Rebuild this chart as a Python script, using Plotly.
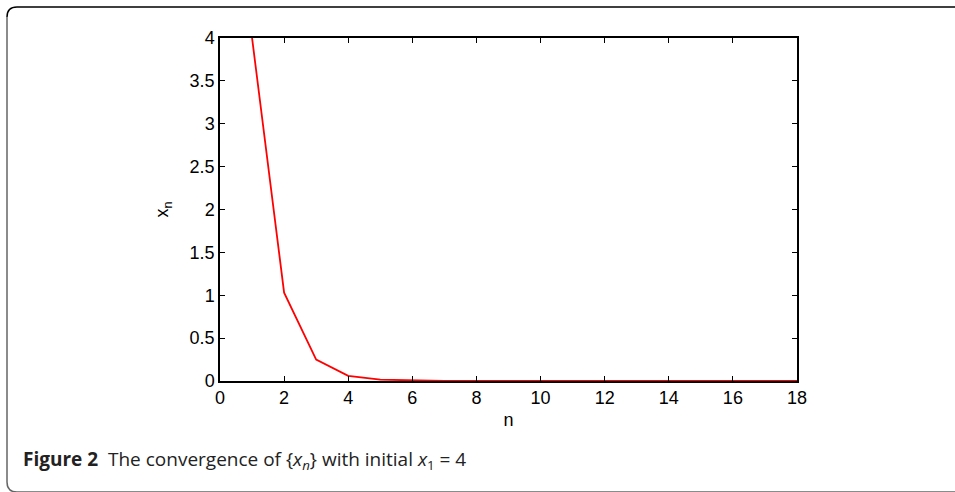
import plotly.graph_objects as go

n_values = list(range(1, 19))
x_values = [4.0, 1.03, 0.25, 0.06, 0.015, 0.004, 0.001, 0.0003, 0.0001, 0.00002,
            0.000006, 0.0000015, 0.0000004, 0.0000001, 0.00000002, 0.000000006,
            0.0000000015, 0.0000000004]
x_ticks = [0, 2, 4, 6, 8, 10, 12, 14, 16, 18]
y_ticks = [0, 0.5, 1, 1.5, 2, 2.5, 3, 3.5, 4]

W, H = 955, 492
L, R, T, B = 220, 797, 38, 381

def px(x):
    return (x - L) / (R - L)

def py(y):
    return (B - y) / (B - T)

fig = go.Figure()
fig.add_trace(go.Scatter(x=n_values, y=x_values, mode="lines",
                         line=dict(color="#ff0000", width=1.8), showlegend=False))

font = dict(family="Liberation Sans, Arial, sans-serif", size=18, color="#000")
axis_common = dict(showgrid=False, zeroline=False, showline=True, linecolor="#000",
                   linewidth=1.5, mirror="ticks", ticks="inside", ticklen=5,
                   tickcolor="#000", tickwidth=1, tickfont=font)

fig.update_layout(
    width=W, height=H,
    margin=dict(l=L, r=W - R, t=T, b=H - B),
    plot_bgcolor="white", paper_bgcolor="white",
    xaxis=dict(range=[0, 18], tickvals=x_ticks, ticktext=[str(t) for t in x_ticks],
               title=dict(text="n", font=font, standoff=6), **axis_common),
    yaxis=dict(range=[0, 4], tickvals=y_ticks, ticktext=[f"{t:g}" for t in y_ticks],
               title=dict(text="x<sub>n</sub>", font=font, standoff=16), **axis_common),
)

r = 10
path_top = (f"M {px(7)},{py(7 + r)} Q {px(7)},{py(7)} {px(7 + r)},{py(7)} L {px(956)},{py(7)}")
path_left = (f"M {px(7)},{py(7 + r)} L {px(7)},{py(492 - r)} Q {px(7)},{py(492)} {px(7 + r)},{py(492)} L {px(956)},{py(492)}")
fig.add_shape(type="path", path=path_top, xref="paper", yref="paper",
              line=dict(color="#000", width=1.5))
fig.add_shape(type="path", path=path_left, xref="paper", yref="paper",
              line=dict(color="#666", width=1.5))

fig.add_annotation(
    text="<b>Figure 2</b>  The convergence of {<i>x<sub>n</sub></i>} with initial <i>x</i><sub>1</sub> = 4",
    xref="paper", yref="paper", x=px(21), y=py(460), xanchor="left", yanchor="middle",
    showarrow=False, font=dict(family="Open Sans, Noto Sans, sans-serif", size=19, color="#222"))

fig.write_html("out.html", config={"displayModeBar": False},
               post_script="document.body.style.margin='0';document.body.style.overflow='hidden';")
